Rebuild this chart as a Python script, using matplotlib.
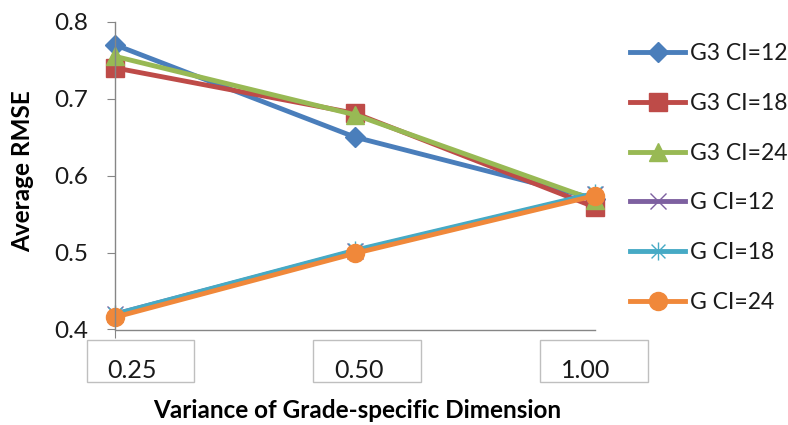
import matplotlib
matplotlib.use("Agg")
import matplotlib.pyplot as plt
from matplotlib.path import Path
from matplotlib.patches import Rectangle

# ---- data ----
categories = ["0.25", "0.50", "1.00"]
series_names = ["G3 CI=12", "G3 CI=18", "G3 CI=24", "G CI=12", "G CI=18", "G CI=24"]
g3_ci12 = [0.770, 0.650, 0.570]
g3_ci18 = [0.740, 0.681, 0.559]
g3_ci24 = [0.755, 0.679, 0.568]
g_ci12 = [0.420, 0.502, 0.576]
g_ci18 = [0.420, 0.503, 0.577]
g_ci24 = [0.416, 0.499, 0.574]
y_ticks = [0.4, 0.5, 0.6, 0.7, 0.8]
y_tick_labels = ["0.4", "0.5", "0.6", "0.7", "0.8"]

plt.rcParams['font.family'] = ['Lato', 'DejaVu Sans']

W, H = 788, 425
fig = plt.figure(figsize=(W / 100, H / 100), dpi=100)
ax = fig.add_axes([115 / W, 1 - 329.5 / H, (595 - 115) / W, (329.5 - 21.7) / H])

star = Path([(-1, -1), (1, 1), (-1, 1), (1, -1), (0, -1.3), (0, 1.3)],
            [Path.MOVETO, Path.LINETO, Path.MOVETO, Path.LINETO, Path.MOVETO, Path.LINETO])

x = list(range(len(categories)))
styles = [
    dict(color="#4A7EBB", marker="D", ms=10, mec="#4A7EBB"),
    dict(color="#BE4B48", marker="s", ms=13, mec="#BE4B48"),
    dict(color="#98B954", marker="^", ms=13, mec="#98B954"),
    dict(color="#7D60A0", marker="x", ms=11, mec="#7D60A0", mew=1.0),
    dict(color="#46AAC5", marker=star, ms=13, mec="#46AAC5", mew=1.0),
    dict(color="#F0883A", marker="o", ms=13, mec="#F0883A"),
]
data = [g3_ci12, g3_ci18, g3_ci24, g_ci12, g_ci18, g_ci24]
for name, vals, st in zip(series_names, data, styles):
    ax.plot(x, vals, lw=3.5, label=name, clip_on=False, **st)

ax.set_xlim(0, len(categories) - 1)
ax.set_ylim(0.4, 0.8)
ax.set_yticks(y_ticks)
ax.set_yticklabels(y_tick_labels)
ax.set_xticks([0])
ax.set_xticklabels([""])
for s in ["top", "right"]:
    ax.spines[s].set_visible(False)
for s in ["left", "bottom"]:
    ax.spines[s].set_color("#868686")
    ax.spines[s].set_linewidth(1.0)
ax.tick_params(axis="y", length=6, color="#868686", pad=13, labelsize=17.5, labelcolor="#1a1a1a")
ax.tick_params(axis="x", length=6, color="#868686")

# category labels in boxes
box_centers = [140.5, 367, 594]
for lab, cx in zip(categories, box_centers):
    fig.add_artist(Rectangle(((cx - 54) / W, 1 - 382 / H), 108 / W, 42 / H,
                             transform=fig.transFigure, fill=False,
                             edgecolor="#BFBFBF", lw=1.0))
    fig.text((cx - 8) / W, 1 - 371 / H, lab, ha="center", va="center",
             fontsize=18, color="#1a1a1a")

fig.text(23 / W, 1 - 171.5 / H, "Average RMSE", rotation=90, ha="center", va="center",
         fontsize=17.5, fontweight="bold", color="#000000")
fig.text(357 / W, 1 - 410 / H, "Variance of Grade-specific Dimension", ha="center",
         va="center", fontsize=17.5, fontweight="bold", color="#000000")

fig.legend(loc="center left", bbox_to_anchor=(630 / W, 1 - 178 / H),
           frameon=False, fontsize=16.5, handlelength=2.4, handletextpad=0.2,
           labelspacing=1.25, borderpad=0, borderaxespad=0,
           labelcolor="#1a1a1a")

fig.savefig("out.png", dpi=100)
